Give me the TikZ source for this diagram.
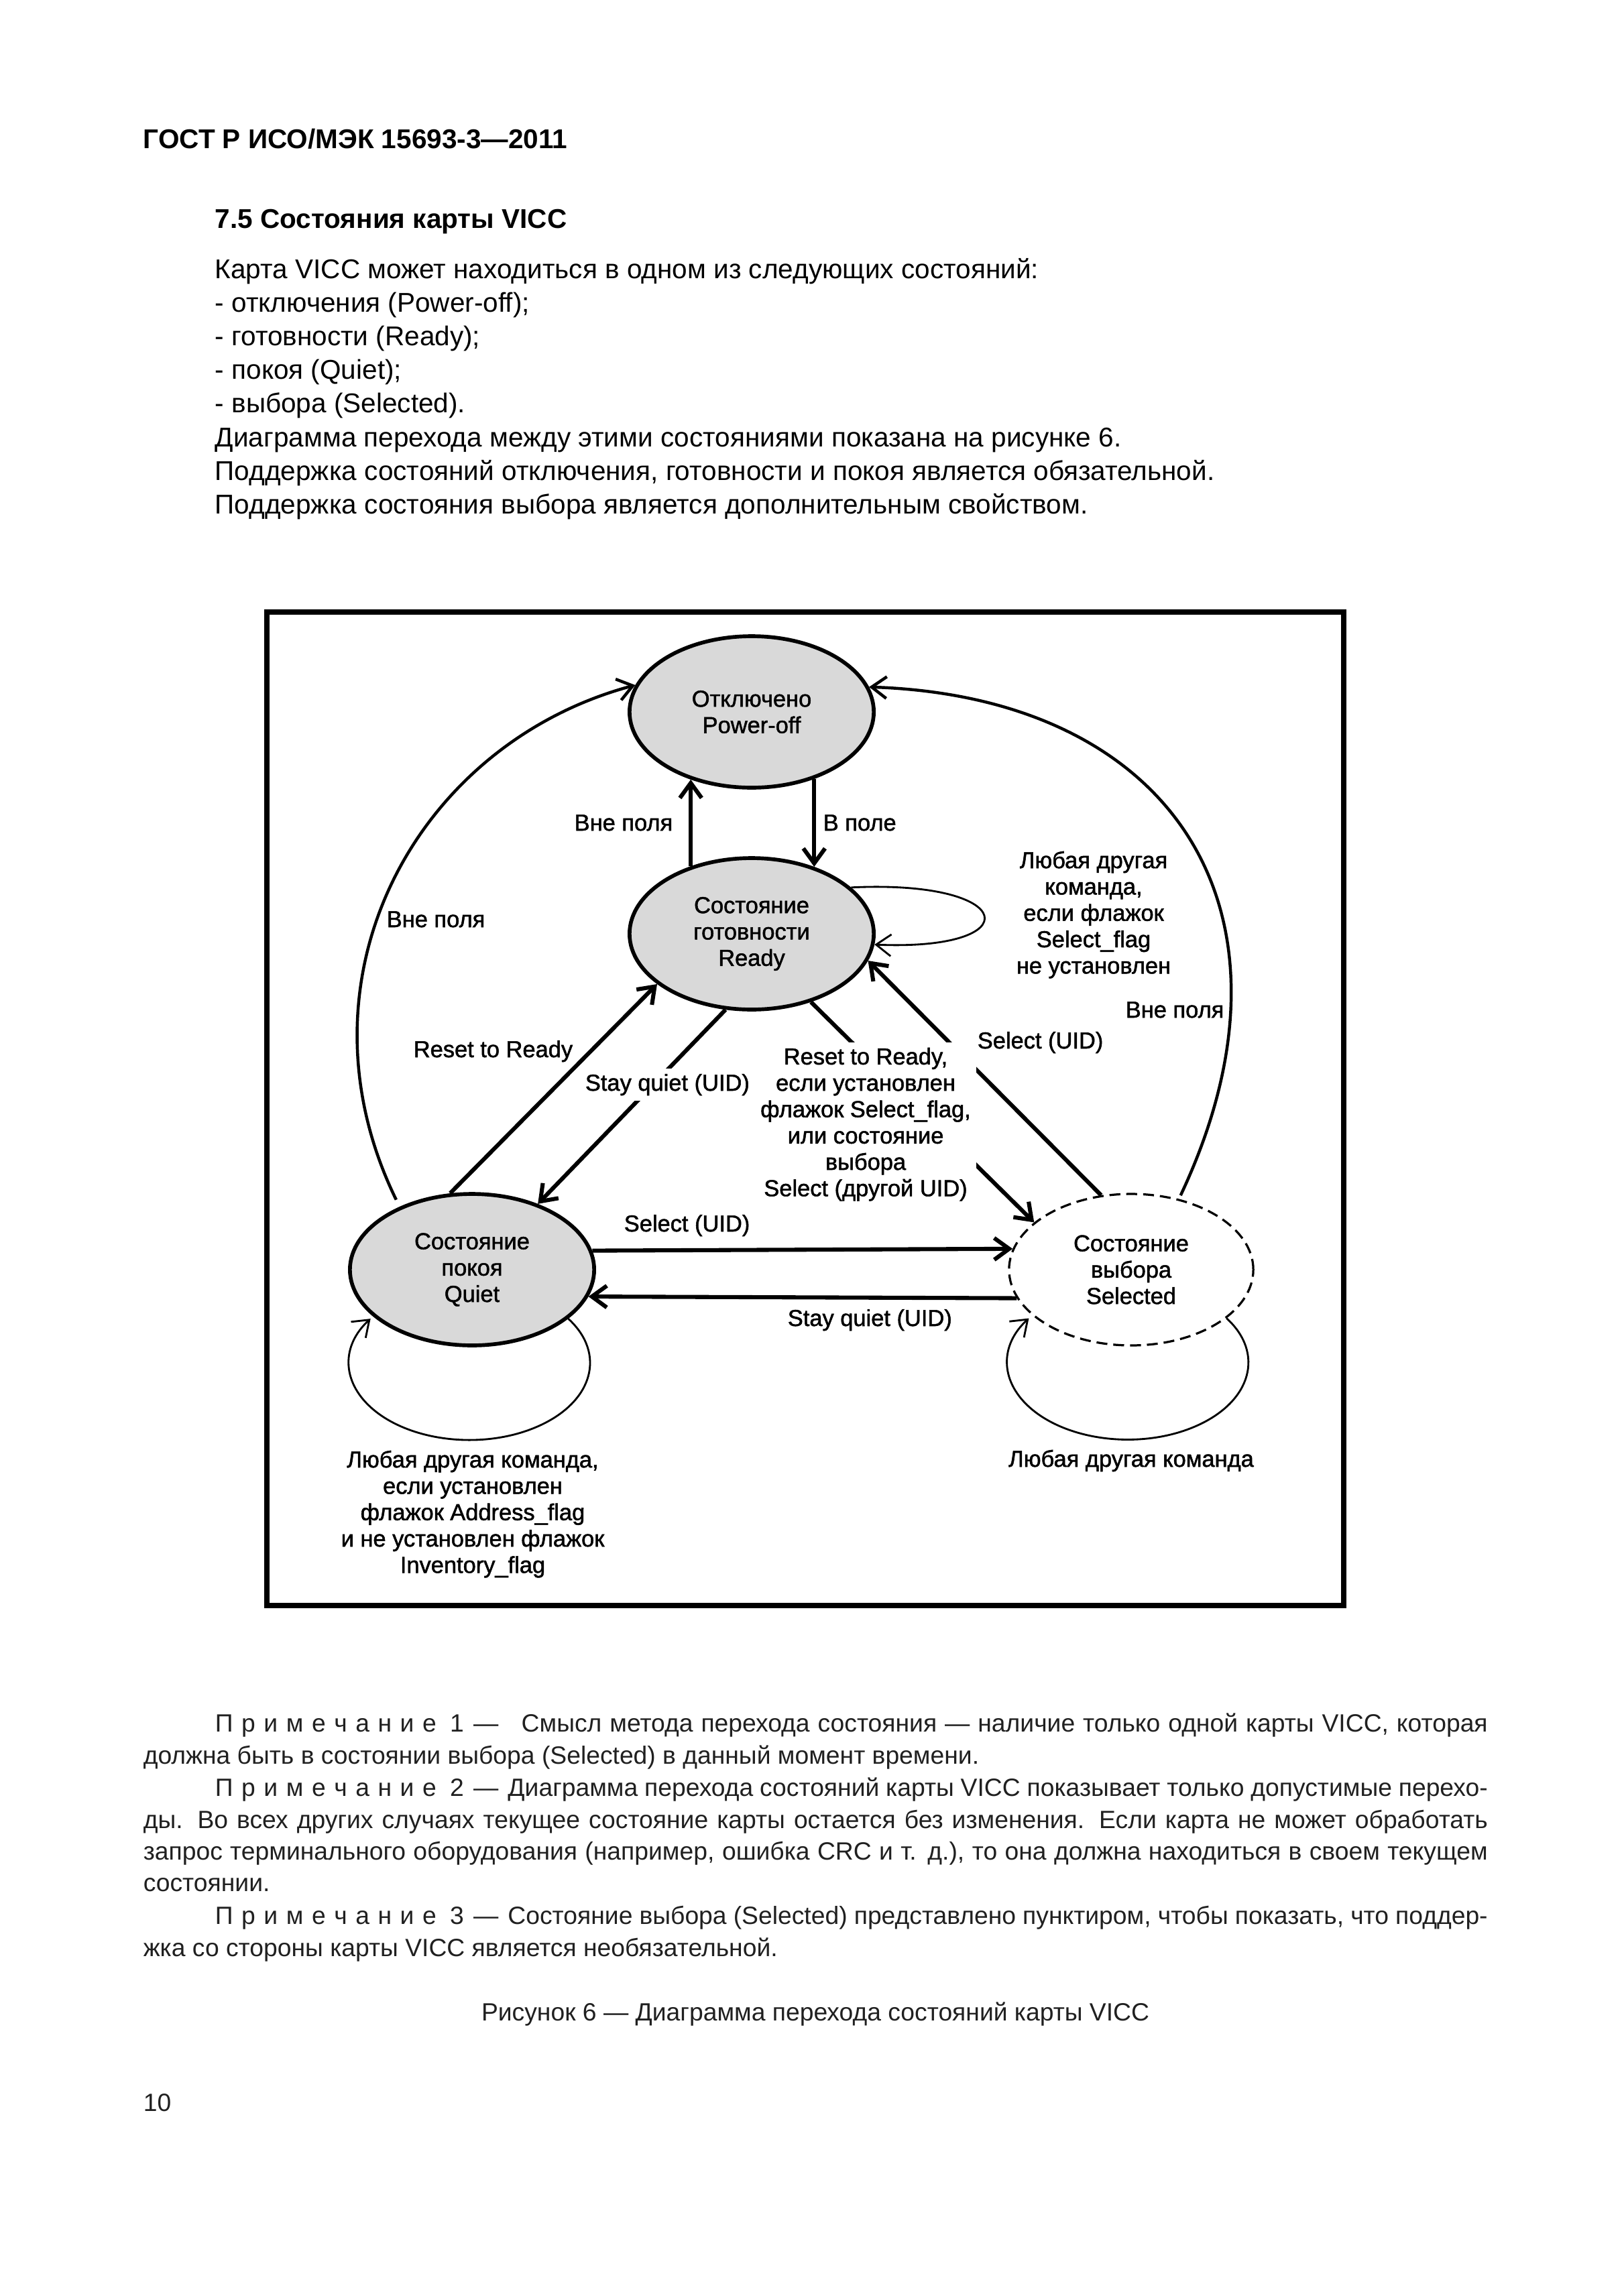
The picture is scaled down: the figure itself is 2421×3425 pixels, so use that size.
\documentclass[tikz,border=0pt]{standalone}
\usepackage{fontspec}
\setmainfont{Liberation Sans}
\newfontfamily\diagfont[FakeBold=1.5]{Liberation Sans}
\usetikzlibrary{shapes.geometric, arrows.meta}
\definecolor{state-gray}{HTML}{D9D9D9}
\definecolor{note-gray}{HTML}{202020}

% spaced-out word used at the start of each note
\newcommand{\primech}[1]{П\kern3.1pt р\kern3.1pt и\kern3.1pt м\kern3.1pt е\kern3.1pt ч\kern3.1pt а\kern3.1pt н\kern3.1pt и\kern3.1pt е\hskip5pt #1\hskip3.5pt —\hskip3.5pt}

\begin{document}
\begin{tikzpicture}[x=0.08674mm, y=-0.08674mm,
    >={Straight Barb[length=5.5pt,width=8pt]},
    every node/.style={inner sep=0pt},
    state/.style={ellipse, draw, line width=1.4pt, fill=state-gray,
                  minimum width=31.6mm, minimum height=19.6mm, align=center,
                  font=\diagfont\fontsize{8.5}{9.7}\selectfont},
    optstate/.style={state, fill=white, line width=0.8pt,
                     dash pattern=on 4pt off 2.2pt},
    trans/.style={->, line width=1.5pt},
    outline/.style={->, line width=1.1pt},
    selfloop/.style={->, line width=0.7pt},
    lbl/.style={font=\diagfont\fontsize{8.5}{9.7}\selectfont, align=center},
    bodytxt/.style={anchor=base west, font=\fontsize{10}{12}\selectfont},
    noteline/.style={anchor=base west, text=note-gray,
                     font=\fontsize{9.2}{11.8}\selectfont}]

  % page
  \fill[white] (0,0) rectangle (2421,3425);
  \useasboundingbox (0,0) rectangle (2421,3425);

  % heading and text above the figure
  \node[anchor=base west, font=\bfseries\fontsize{10}{12}\selectfont]
        (docid) at (213,221) {ГОСТ Р ИСО/МЭК 15693-3—2011};
  \node[anchor=base west, font=\bfseries\fontsize{10}{12}\selectfont]
        (sect) at (320,340) {7.5 Состояния карты VICC};
  \node[bodytxt] (bodyA) at (320,415) {Карта VICC может находиться в одном из следующих состояний:};
  \node[bodytxt] (bodyB) at (320,465) {- отключения (Power-off);};
  \node[bodytxt] (bodyC) at (320,515) {- готовности (Ready);};
  \node[bodytxt] (bodyD) at (320,565) {- покоя (Quiet);};
  \node[bodytxt] (bodyE) at (320,615) {- выбора (Selected).};
  \node[bodytxt] (bodyF) at (320,666) {Диаграмма перехода между этими состояниями показана на рисунке 6.};
  \node[bodytxt] (bodyG) at (320,716) {Поддержка состояний отключения, готовности и покоя является обязательной.};
  \node[bodytxt] (bodyH) at (320,766) {Поддержка состояния выбора является дополнительным свойством.};

  % figure frame
  \draw[line width=1.8pt] (398,913) rectangle (2004,2395);

  % states
  \node[state] (poweroff) at (1121,1062) {Отключено\\Power-off};
  \node[state] (ready) at (1121,1393) {Состояние\\готовности\\Ready};
  \node[state] (quiet) at (704,1894) {Состояние\\покоя\\Quiet};
  \node[optstate] (selected) at (1687,1894) {Состояние\\выбора\\Selected};

  % transitions
  \draw[trans] (ready.132.9) -- (poweroff.-132.9);
  \draw[trans] (poweroff.-47.1) -- (ready.47.1);
  \draw[selfloop] (ready.25.6) .. controls +(250,-12) and +(232,10) .. (ready.-5.5);
  \draw[outline, shorten <=1mm] (quiet.139.7)
        .. controls (430,1460) and (620,1110) .. (poweroff.167.7);
  \draw[outline, shorten <=0.5mm] (selected.56.1)
        .. controls (1960,1360) and (1750,1040) .. (poweroff.12);
  \draw[trans] (quiet.106.4) -- (ready.-152.1);
  \draw[trans] (ready.-109.5) -- (quiet.45.6);
  \draw[trans] (ready.-49) -- (selected.154.9);
  \draw[trans] (selected.112.3) -- (ready.-13.5);
  \draw[trans] (quiet.9.7) -- (selected.170.3);
  \draw[trans] (selected.-166.4) -- (quiet.-13.6);
  \draw[selfloop] (quiet.-27.5)
        arc[start angle=35, end angle=-215, x radius=15.61mm, y radius=9.975mm];
  \draw[selfloop] (selected.-27.5)
        arc[start angle=35, end angle=-215, x radius=15.61mm, y radius=9.975mm];

  % transition labels
  \node[lbl, anchor=base east] (outup) at (1004,1239) {Вне поля};
  \node[lbl, anchor=base west] (infield) at (1227,1239) {В поле};
  \node[lbl, anchor=base west] (outleft) at (576,1383) {Вне поля};
  \node[lbl, anchor=base west] (outright) at (1678,1518) {Вне поля};
  \node[lbl, anchor=north] (readyloop) at (1631,1269)
        {Любая другая\\команда,\\если флажок\\Select\_flag\\не установлен};
  \node[lbl, anchor=base west] (selready) at (1457,1564) {Select (UID)};
  \node[lbl, anchor=base west] (resetq) at (616,1577) {Reset to Ready};
  \node[lbl, anchor=base west, fill=white, inner sep=2pt] (stayr) at (864,1627)
        {Stay quiet (UID)};
  \node[lbl, anchor=north, fill=white, inner sep=2pt] (resetsel) at (1291,1554)
        {Reset to Ready,\\если установлен\\флажок Select\_flag,\\или состояние\\выбора\\Select (другой UID)};
  \node[lbl, anchor=base west] (selq) at (930,1837) {Select (UID)};
  \node[lbl, anchor=base west] (stayq) at (1174,1978) {Stay quiet (UID)};
  \node[lbl, anchor=north] (quietloop) at (705,2163)
        {Любая другая команда,\\если установлен\\флажок Address\_flag\\и не установлен флажок\\Inventory\_flag};
  \node[lbl, anchor=base] (selloop) at (1687,2188) {Любая другая команда};

  % notes and caption
  \node[noteline] (noteA) at (320,2583)
        {\makebox[164.63mm][s]{\primech{1}\hskip5pt Смысл метода перехода состояния — наличие только одной карты VICC, которая}};
  \node[noteline] (noteB) at (213,2631)
        {должна быть в состоянии выбора (Selected) в данный момент времени.};
  \node[noteline] (noteC) at (320,2679)
        {\makebox[164.63mm][s]{\primech{2}Диаграмма перехода состояний карты VICC показывает только допустимые перехо-}};
  \node[noteline] (noteD) at (213,2727)
        {\makebox[173.92mm][s]{ды. Во всех других случаях текущее состояние карты остается без изменения. Если карта не может обработать}};
  \node[noteline] (noteE) at (213,2774)
        {\makebox[173.92mm][s]{запрос терминального оборудования (например, ошибка CRC и т. д.), то она должна находиться в своем текущем}};
  \node[noteline] (noteF) at (213,2821) {состоянии.};
  \node[noteline] (noteG) at (320,2870)
        {\makebox[164.63mm][s]{\primech{3}Состояние выбора (Selected) представлено пунктиром, чтобы показать, что поддер-}};
  \node[noteline] (noteH) at (213,2918)
        {жка со стороны карты VICC является необязательной.};
  \node[noteline, anchor=base] (caption) at (1216,3014)
        {Рисунок 6 — Диаграмма перехода состояний карты VICC};
  \node[noteline] (pageno) at (213,3149) {10};
\end{tikzpicture}
\end{document}
